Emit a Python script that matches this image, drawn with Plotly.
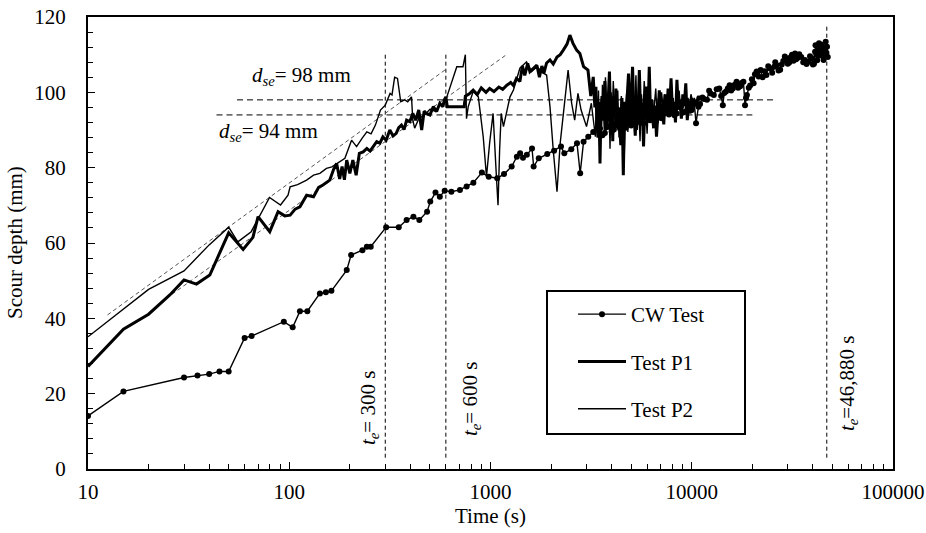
import plotly.graph_objects as go

# ---------------- data ----------------
cw_t = [10, 15, 30, 35, 40, 45, 50, 60, 65, 94, 104, 113, 123, 142, 152, 162, 193, 203, 231, 243, 254,
        303, 350, 383, 414, 443, 484, 502, 533, 560, 592, 639, 705, 761, 822, 906, 980, 1080, 1167, 1274,
        1352, 1403, 1450, 1516, 1608, 1638, 1737, 1914, 2070, 2240, 2327, 2520, 2690, 2790, 2900, 3060,
        3240,
        3500, 3600, 3700, 3800, 3900, 4000, 4100, 4200, 4300, 4400, 4500, 4600, 4700, 4800, 4900, 5000,
        5100, 5200, 5300, 5450, 5600, 5750, 5900, 6050, 6200, 6350, 6500, 6650, 6800, 6950, 7100, 7250,
        7400, 7550, 7700, 7850, 8000, 8200, 8400, 8600, 8800, 9000, 9200, 9400, 9600, 9800,
        10000, 10300, 10500, 10800, 11000, 11300, 11500, 11900, 12200, 12400, 12870, 13300, 13700, 14000,
        14270, 14500, 14800, 15100, 15420, 15700, 16000, 16350, 16700, 17000, 17400, 17700, 18060, 18400,
        18600, 18800, 19200, 19500, 19900, 20300, 20600, 21000, 21500, 22000, 22500, 23000, 23500, 24000,
        24500, 25100, 25700, 26000, 26400, 27000, 27500, 28000, 28500, 29000, 29600, 30000, 30500, 31000,
        31500, 32000, 32600, 33000, 33500, 34200, 35000, 35800, 36500, 37200, 38000, 38700, 39500, 40000,
        40500, 41000, 41200, 41600, 42000, 42400, 42900, 43300, 43800, 44300, 44800, 45200, 45500, 45900,
        46300, 46700, 47000, 47400]
cw_d = [14.1, 20.6, 24.3, 24.8, 25.2, 25.9, 25.9, 34.8, 35.3, 39.1, 37.6, 41.9, 41.9, 46.6, 46.9, 47.3, 52.8,
        56.8, 58.1, 59.0, 59.0, 64.2, 64.2, 66.1, 67.0, 66.1, 68.3, 71.0, 73.4, 72.3, 73.9, 73.6, 74.1, 75.0,
        76.0, 78.7, 77.6, 77.2, 78.3, 80.3, 82.9, 83.8, 82.6, 83.4, 85.1, 80.3, 82.5, 83.6, 84.5, 85.6, 83.8,
        84.9, 86.5, 78.5, 86.9, 88.2, 89.5,
        90.4, 88.6, 89.2, 90.8, 91.0, 89.6, 90.1, 91.6, 92.3, 90.4, 91.4, 92.9, 90.6, 91.8, 92.8, 91.2,
        93.5, 92.4, 91.9, 94.0, 93.0, 91.8, 94.2, 93.4, 92.6, 94.6, 93.8, 92.4, 94.9, 95.6, 93.1, 94.3,
        95.0, 96.2, 94.1, 95.0, 95.6, 93.9, 94.4, 96.8, 96.0, 94.6, 94.8, 97.0, 96.5, 95.1,
        95.3, 97.0, 91.8, 96.2, 96.9, 98.6, 98.2, 98.0, 100.4, 99.7, 99.3, 100.8, 101.0, 99.0,
        96.6, 99.8, 100.2, 101.0, 101.9, 100.5, 101.0, 102.0, 102.8, 101.2, 101.6, 102.5, 102.8, 96.6,
        98.5, 99.3, 101.2, 101.8, 103.5, 102.4, 104.8, 105.5, 104.2, 105.9, 104.0, 105.6, 104.6, 106.9,
        106.3, 105.2, 106.8, 108.0, 107.2, 105.8, 106.0, 107.4, 108.3, 109.5, 109.0, 107.6, 107.9, 109.3,
        110.0, 108.4, 110.3, 108.8, 109.1, 110.1, 109.4, 108.0, 108.6, 107.5, 108.1, 109.6, 109.0, 107.4,
        107.6, 110.8, 112.5, 110.0, 108.5, 111.7, 113.0, 109.8, 110.5, 112.6, 111.8, 108.6, 109.4, 111.5,
        113.4, 110.5, 112.1, 109.4]

p1_t_rise = [10, 12.9, 15, 20, 25.5, 30, 34.6, 40.3, 50, 59, 66, 70, 80, 88, 95, 101, 107, 113, 122, 132, 140,
             147, 159, 166, 172, 178, 183, 188, 193, 200, 207, 215, 223, 233, 243, 252, 262, 272, 282, 292, 303,
             316, 328, 340, 350, 361, 372, 383, 397, 411, 425, 440, 455, 468, 480, 500, 520, 540, 560, 580, 590,
             600, 610, 740, 750, 785, 820, 860, 900, 950, 990, 1040, 1100, 1150, 1206, 1260, 1300, 1345, 1400,
             1440, 1480, 1530, 1570, 1630, 1700, 1750, 1800, 1840, 1900, 1975, 2050, 2140, 2220, 2300, 2400,
             2480, 2570, 2680, 2780, 2900, 3050, 3150, 3240]
p1_d_rise = [27.2, 33.5, 37.1, 41.1, 46.2, 50.2, 49.1, 51.5, 62.7, 58.3, 61.5, 67.0, 63.0, 68.3, 67.2, 67.4, 69.0,
             69.6, 72.7, 72.3, 74.8, 75.4, 76.7, 79.5, 81.1, 77.0, 80.3, 76.8, 82.0, 78.5, 82.0, 78.0, 83.8, 84.2,
             85.1, 84.4, 85.6, 86.9, 86.5, 88.2, 87.3, 90.0, 88.4, 89.1, 90.6, 91.3, 90.1, 92.6, 92.2, 94.4, 92.6,
             95.3, 90.0, 95.0, 94.4, 94.0, 96.2, 94.9, 97.1, 96.2, 98.0, 98.8, 96.2, 96.2, 99.0, 99.6, 100.6, 99.4,
             101.2, 100.0, 101.0, 100.2, 101.4, 100.8, 101.9, 102.6, 101.8, 103.7, 102.9, 107.0, 104.5, 107.7,
             105.5, 106.2, 107.2, 104.0, 107.0, 105.0, 107.8, 108.6, 107.5, 109.4, 110.0, 111.2, 112.8, 115.2,
             113.0, 111.2, 110.3, 106.8, 105.9, 99.0, 104.1]
p1_t_osc = [3300, 3340, 3380, 3420, 3460, 3500, 3540, 3580, 3620, 3660, 3700, 3750, 3800, 3850, 3900, 3950,
            4000, 4050, 4100, 4150, 4200, 4260, 4320, 4380, 4440, 4500, 4570, 4640, 4710, 4780, 4850, 4920,
            5000, 5080, 5160, 5240, 5320, 5400, 5490, 5580, 5670, 5760, 5850, 5950, 6050, 6150, 6250, 6350,
            6460, 6570, 6680, 6790, 6900, 7020, 7140, 7260, 7380, 7500, 7630, 7760, 7890, 8020, 8160, 8300,
            8440, 8580, 8730, 8880, 9030, 9180, 9340, 9500, 9660, 9820, 10000, 10200, 10400, 10600, 10800, 11000]
p1_d_osc = [96.0, 101.5, 92.0, 88.0, 97.5, 81.1, 95.0, 99.0, 92.5, 100.5, 103.0, 90.0, 96.5, 98.5, 105.5, 93.0,
            97.0, 87.0, 99.0, 94.5, 101.0, 90.5, 96.0, 92.0, 86.0, 98.5, 78.0, 97.5, 92.0, 99.0, 105.0, 91.0,
            98.0, 106.8, 94.5, 88.5, 99.0, 93.5, 105.9, 93.0, 97.0, 85.6, 97.0, 101.5, 92.5, 106.8, 92.0, 98.0,
            90.5, 96.5, 88.2, 95.0, 100.5, 93.5, 97.0, 91.5, 99.5, 94.0, 101.0, 95.5, 103.7, 95.0, 97.5, 92.0,
            103.3, 95.5, 98.0, 93.0, 99.5, 96.5, 102.4, 92.6, 97.5, 95.0, 98.5, 96.0, 98.0, 97.0, 99.0, 98.0]

p2_t_rise = [10, 20, 30, 40, 50, 55.5, 64.7, 72, 79.8, 90.5, 98.6, 101, 110, 122, 132, 142, 153, 163, 172, 189,
             204, 216, 230, 243, 255, 268, 284, 300, 317, 324, 334, 345, 358, 375, 388, 405, 411, 420, 440, 470,
             500, 530, 560, 590, 600, 680, 730, 750, 760, 775, 820, 870, 920, 955, 990, 1030, 1070, 1090, 1110,
             1130, 1160, 1206, 1250, 1300, 1400, 1510, 1600, 1700, 1840, 1900, 1975, 2050, 2140, 2220, 2300,
             2430, 2530, 2620, 2720, 2820, 3000, 3170]
p2_d_rise = [35.1, 47.7, 52.6, 59.5, 64.2, 60.3, 63.0, 67.5, 72.1, 70.1, 72.7, 74.9, 75.5, 76.7, 78.0, 78.5, 79.8,
             80.2, 81.1, 82.5, 87.3, 85.6, 87.8, 89.5, 89.0, 91.3, 95.3, 96.6, 99.7, 99.3, 104.0, 103.7, 97.5,
             98.0, 97.5, 98.8, 92.6, 90.5, 93.0, 94.0, 95.5, 95.0, 96.5, 97.0, 98.0, 106.8, 106.8, 110.0, 93.0,
             96.2, 100.2, 98.8, 88.2, 77.6, 86.5, 94.4, 77.6, 70.0, 84.7, 94.4, 90.9, 95.3, 98.8, 100.6, 106.4,
             108.1, 105.5, 106.8, 105.0, 104.6, 96.2, 84.7, 73.6, 86.5, 93.5, 105.9, 97.1, 92.6, 99.7, 95.3, 90.9,
             97.1]
p2_t_osc = [3320, 3360, 3400, 3440, 3480, 3520, 3560, 3600, 3640, 3680, 3725, 3775, 3825, 3875, 3925, 3975,
            4025, 4075, 4125, 4175, 4230, 4290, 4350, 4410, 4470, 4535, 4605, 4675, 4745, 4815, 4885, 4960,
            5040, 5120, 5200, 5280, 5360, 5445, 5535, 5625, 5715, 5805, 5900, 6000, 6100, 6200, 6300, 6405,
            6515, 6625, 6735, 6845, 6960, 7080, 7200, 7320, 7440, 7565, 7695, 7825, 7955, 8090, 8230, 8370,
            8510, 8655, 8805, 8955, 9105, 9260, 9420, 9580, 9740, 9910, 10100, 10300, 10500, 10700, 10900, 11200]
p2_d_osc = [88.2, 99.0, 93.0, 100.5, 86.0, 95.5, 91.0, 102.0, 96.0, 89.0, 104.0, 95.0, 91.0, 98.5, 85.0, 100.0,
            93.5, 103.0, 97.0, 89.5, 96.5, 100.5, 88.0, 95.0, 99.0, 91.0, 80.0, 94.0, 99.5, 89.5, 103.5, 96.0,
            91.5, 100.0, 94.0, 104.5, 90.0, 96.5, 87.0, 99.5, 93.0, 103.0, 95.0, 89.0, 98.0, 92.0, 97.0, 90.5,
            96.5, 101.0, 93.0, 98.5, 92.5, 100.0, 96.0, 99.5, 94.0, 98.5, 95.0, 100.0, 96.0, 98.5, 93.5, 99.0,
            96.5, 100.5, 95.5, 98.0, 96.0, 99.0, 97.0, 98.5, 96.5, 99.5, 97.5, 98.5, 97.0, 99.0, 98.0, 98.5]

p1_t = p1_t_rise + p1_t_osc
p1_d = p1_d_rise + p1_d_osc
p2_t = p2_t_rise + p2_t_osc
p2_d = p2_d_rise + p2_d_osc

# reference lines (equilibrium depth / time markers, fitted trend lines)
te_vals = [300, 600, 46880]
te_top = [110, 110, 118]
te_bottom = 3
dse_vals = [98, 94]
dse_x0 = [55, 43.5]
dse_x1 = [25400, 20000]
trend_upper_t = [12.5, 600]
trend_upper_d = [40.9, 106.1]
trend_lower_t = [24.5, 1200]
trend_lower_d = [45.3, 110.0]

x_ticks = [10, 100, 1000, 10000, 100000]
x_ticktext = ["10", "100", "1000", "10000", "100000"]

# ---------------- layout helpers (pixel -> paper) ----------------
L, R, T, B = 88, 893, 17, 469
def px(p):
    return (p - L) / (R - L)
def py(p):
    return (B - p) / (B - T)

FONT = "Liberation Serif"
fig = go.Figure()

for xv, top in zip(te_vals, te_top):
    fig.add_trace(go.Scatter(x=[xv, xv], y=[te_bottom, top], mode="lines",
                             line=dict(color="black", width=1, dash="4px,3px"),
                             showlegend=False, hoverinfo="skip"))
for yv, a, b in zip(dse_vals, dse_x0, dse_x1):
    fig.add_trace(go.Scatter(x=[a, b], y=[yv, yv], mode="lines",
                             line=dict(color="black", width=1, dash="6px,4px"),
                             showlegend=False, hoverinfo="skip"))
for tt, dd in [(trend_upper_t, trend_upper_d), (trend_lower_t, trend_lower_d)]:
    fig.add_trace(go.Scatter(x=tt, y=dd, mode="lines",
                             line=dict(color="#555555", width=1, dash="4px,3px"),
                             showlegend=False, hoverinfo="skip"))

fig.add_trace(go.Scatter(x=cw_t, y=cw_d, mode="lines+markers", name="CW Test", legendgroup="a",
                         line=dict(color="black", width=1.4),
                         marker=dict(color="black", size=6)))
fig.add_trace(go.Scatter(x=p1_t, y=p1_d, mode="lines", name="Test P1", legendgroup="b",
                         line=dict(color="black", width=3)))
fig.add_trace(go.Scatter(x=p2_t, y=p2_d, mode="lines", name="Test P2", legendgroup="c",
                         line=dict(color="black", width=1.4)))

minor_x = [m * 10 ** e for e in range(1, 5) for m in range(2, 10)]

fig.update_layout(
    width=926, height=533,
    margin=dict(l=L, r=926 - R, t=T, b=533 - B, autoexpand=False),
    paper_bgcolor="white", plot_bgcolor="white",
    font=dict(family=FONT, size=21, color="black"),
    showlegend=True,
    legend=dict(x=px(573), y=py(294), xanchor="left", yanchor="top",
                bgcolor="rgba(0,0,0,0)", borderwidth=0, tracegroupgap=17,
                itemwidth=48, font=dict(family=FONT, size=21, color="black")),
    xaxis=dict(type="log", range=[1, 5], tickvals=x_ticks, ticktext=x_ticktext,
               ticks="inside", ticklen=7, tickwidth=1, tickcolor="black",
               minor=dict(tickvals=minor_x, ticks="inside", ticklen=5, tickwidth=1, tickcolor="black"),
               showline=True, linecolor="black", linewidth=2, mirror=True,
               showgrid=False, zeroline=False, ticklabelstandoff=3, automargin=False,
               tickfont=dict(family=FONT, size=21)),
    yaxis=dict(range=[0, 120], dtick=20, ticks="inside", ticklen=7, tickwidth=1, tickcolor="black",
               minor=dict(dtick=4, ticks="inside", ticklen=5, tickwidth=1, tickcolor="black"),
               showline=True, linecolor="black", linewidth=2, mirror=True,
               showgrid=False, zeroline=False, ticklabelstandoff=16, automargin=False,
               tickfont=dict(family=FONT, size=21)),
)

fig.add_shape(type="rect", xref="paper", yref="paper",
              x0=px(547), x1=px(745), y0=py(434), y1=py(291),
              line=dict(color="black", width=2), fillcolor="rgba(0,0,0,0)")

ann = [
    dict(text="Time (s)", x=px(490), y=py(516), textangle=0),
    dict(text="Scour depth (mm)", x=px(15), y=py(243), textangle=-90),
    dict(text="<i>d</i><sub><i>se</i></sub>= 98 mm", x=px(301), y=py(76), textangle=0),
    dict(text="<i>d</i><sub><i>se</i></sub>= 94 mm", x=px(268), y=py(132), textangle=0),
    dict(text="<i>t</i><sub><i>e</i></sub>= 300 s", x=px(369), y=py(408), textangle=-90),
    dict(text="<i>t</i><sub><i>e</i></sub>= 600 s", x=px(471), y=py(399), textangle=-90),
    dict(text="<i>t</i><sub><i>e</i></sub>=46,880 s", x=px(848), y=py(384), textangle=-90),
]
for a in ann:
    fig.add_annotation(xref="paper", yref="paper", showarrow=False,
                       xanchor="center", yanchor="middle",
                       font=dict(family=FONT, size=21, color="black"), **a)

fig.write_html("out.html", config={"displayModeBar": False},
               post_script="document.body.style.margin='0';document.body.style.overflow='hidden';")
